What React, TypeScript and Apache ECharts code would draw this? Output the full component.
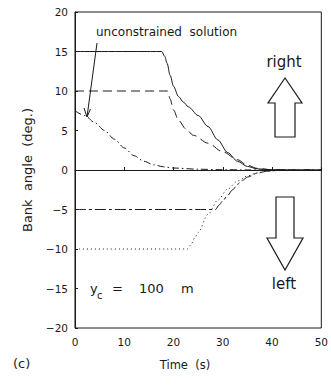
import React, { useEffect, useRef } from "react";
import * as echarts from "echarts";

const xTicks = [0, 10, 20, 30, 40, 50];
const yTicks = [-20, -15, -10, -5, 0, 5, 10, 15, 20];

const solidLimit15: [number, number][] = [
  [0, 15], [17.6, 15], [18.2, 14.4], [18.7, 13.5], [19.3, 12.0], [20, 10.6], [21, 9.3],
  [22, 8.6], [23, 8.0], [25, 6.9], [27, 5.5], [29, 3.8], [31, 2.2], [33, 1.1],
  [35, 0.45], [37, 0.15], [40, 0.03], [45, 0], [50, 0],
];
const dashedLimit10: [number, number][] = [
  [0, 10], [18.8, 10], [19.3, 9.0], [20, 7.6], [21, 6.3], [22.5, 5.2], [24, 4.4],
  [27, 3.4], [30, 2.3], [33, 1.3], [35, 0.6], [37, 0.2], [40, 0.03], [45, 0], [50, 0],
];
const unconstrained: [number, number][] = [
  [0, 7.5], [2, 6.9], [4, 6.0], [6, 5.0], [8, 3.9], [10, 2.8], [12, 1.8], [14, 1.1],
  [16, 0.65], [18, 0.4], [20, 0.25], [25, 0.1], [30, 0.04], [35, 0.01], [40, 0], [50, 0],
];
const dashDotLimit5: [number, number][] = [
  [0, -5], [28.5, -5], [29.3, -4.4], [30, -3.9], [31, -3.2], [32, -2.5], [33, -1.8],
  [34, -1.3], [35, -0.9], [37, -0.4], [39, -0.15], [42, -0.03], [50, 0],
];
const dottedLimit10: [number, number][] = [
  [0, -10], [22.8, -10], [23.5, -9.5], [24.3, -8.6], [25, -7.9], [27, -5.6], [29, -3.8],
  [31, -2.4], [33, -1.4], [35, -0.75], [37, -0.35], [39, -0.12], [42, -0.02], [50, 0],
];

const INK = "#1a1a1a";
const FONT = "DejaVu Sans";

export default function App() {
  const ref = useRef<HTMLDivElement>(null);
  useEffect(() => {
    document.body.style.margin = "0";
    const chart = echarts.init(ref.current!, null, { renderer: "svg" });
    const line = (data: [number, number][], type: any) => ({
      type: "line",
      data,
      showSymbol: false,
      smooth: 0.3,
      smoothMonotone: "x",
      lineStyle: { color: INK, width: 1, type },
      silent: true,
    });
    chart.setOption({
      animation: false,
      backgroundColor: "#fff",
      grid: {
        left: 75, right: 6, top: 12, bottom: 57,
        show: true, borderColor: INK, borderWidth: 1,
      },
      xAxis: {
        type: "value", min: xTicks[0], max: xTicks[xTicks.length - 1], interval: 10,
        axisLine: { lineStyle: { color: INK } },
        axisTick: { inside: true, length: 3, lineStyle: { color: INK } },
        axisLabel: { color: INK, fontFamily: FONT, fontSize: 10.5, margin: 8 },
        splitLine: { show: false },
      },
      yAxis: {
        type: "value", min: yTicks[0], max: yTicks[yTicks.length - 1], interval: 5,
        axisLine: { show: true, lineStyle: { color: INK } },
        axisTick: { show: true, inside: true, length: 3, lineStyle: { color: INK } },
        axisLabel: {
          color: INK, fontFamily: FONT, fontSize: 10.5, margin: 7,
          formatter: (v: number) => String(v).replace("-", "\u2212"),
        },
        splitLine: { show: false },
      },
      series: [
        {
          ...line(solidLimit15, "solid"),
          markLine: {
            symbol: "none", silent: true, label: { show: false },
            lineStyle: { color: INK, width: 1, type: "solid" },
            data: [{ yAxis: 0 }],
          },
        },
        line(dashedLimit10, [9, 5]),
        line(unconstrained, [7, 3, 1.5, 3]),
        line(dashDotLimit5, [11, 3, 3, 3]),
        line(dottedLimit10, [1, 3]),
      ],
      graphic: [
        { type: "text", left: 96, top: 26, style: { text: "unconstrained  solution", fill: INK, font: `12px "${FONT}"` } },
        { type: "line", shape: { x1: 97, y1: 43, x2: 87, y2: 117 }, style: { stroke: INK, lineWidth: 1 } },
        { type: "polyline", shape: { points: [[84, 108], [87, 117], [90.5, 109]] }, style: { stroke: INK, lineWidth: 1, fill: null } },
        { type: "text", x: 284, y: 62, style: { text: "right", fill: INK, font: `15px "${FONT}"`, align: "center", verticalAlign: "middle" } },
        {
          type: "polygon",
          shape: { points: [[285, 78], [302, 103], [295, 103], [295, 137], [275, 137], [275, 103], [268, 103]] },
          style: { stroke: INK, lineWidth: 1.2, fill: "#fff" },
        },
        {
          type: "polygon",
          shape: { points: [[276, 197], [294, 197], [294, 238], [303, 238], [285, 270], [267, 238], [276, 238]] },
          style: { stroke: INK, lineWidth: 1.2, fill: "#fff" },
        },
        { type: "text", x: 284, y: 284, style: { text: "left", fill: INK, font: `15px "${FONT}"`, align: "center", verticalAlign: "middle" } },
        { type: "text", x: 90, y: 288, style: { text: "y", fill: INK, font: `13px "${FONT}"`, verticalAlign: "middle" } },
        { type: "text", x: 97, y: 295, style: { text: "c", fill: INK, font: `10px "${FONT}"`, verticalAlign: "middle" } },
        { type: "text", x: 112, y: 288, style: { text: "=", fill: INK, font: `13px "${FONT}"`, verticalAlign: "middle" } },
        { type: "text", x: 139, y: 288, style: { text: "100", fill: INK, font: `13px "${FONT}"`, verticalAlign: "middle" } },
        { type: "text", x: 181, y: 288, style: { text: "m", fill: INK, font: `13px "${FONT}"`, verticalAlign: "middle" } },
        { type: "text", x: 13, y: 363, style: { text: "(c)", fill: INK, font: `13px "${FONT}"`, verticalAlign: "middle" } },
        { type: "text", x: 185, y: 365, style: { text: "Time  (s)", fill: INK, font: `11.5px "${FONT}"`, align: "center", verticalAlign: "middle" } },
        {
          type: "text", x: 27, y: 170, rotation: Math.PI / 2,
          style: { text: "Bank  angle  (deg.)", fill: INK, font: `13px "${FONT}"`, align: "center", verticalAlign: "middle" },
        },
      ],
    });
    return () => chart.dispose();
  }, []);
  return <div ref={ref} style={{ width: 331, height: 385 }} />;
}
